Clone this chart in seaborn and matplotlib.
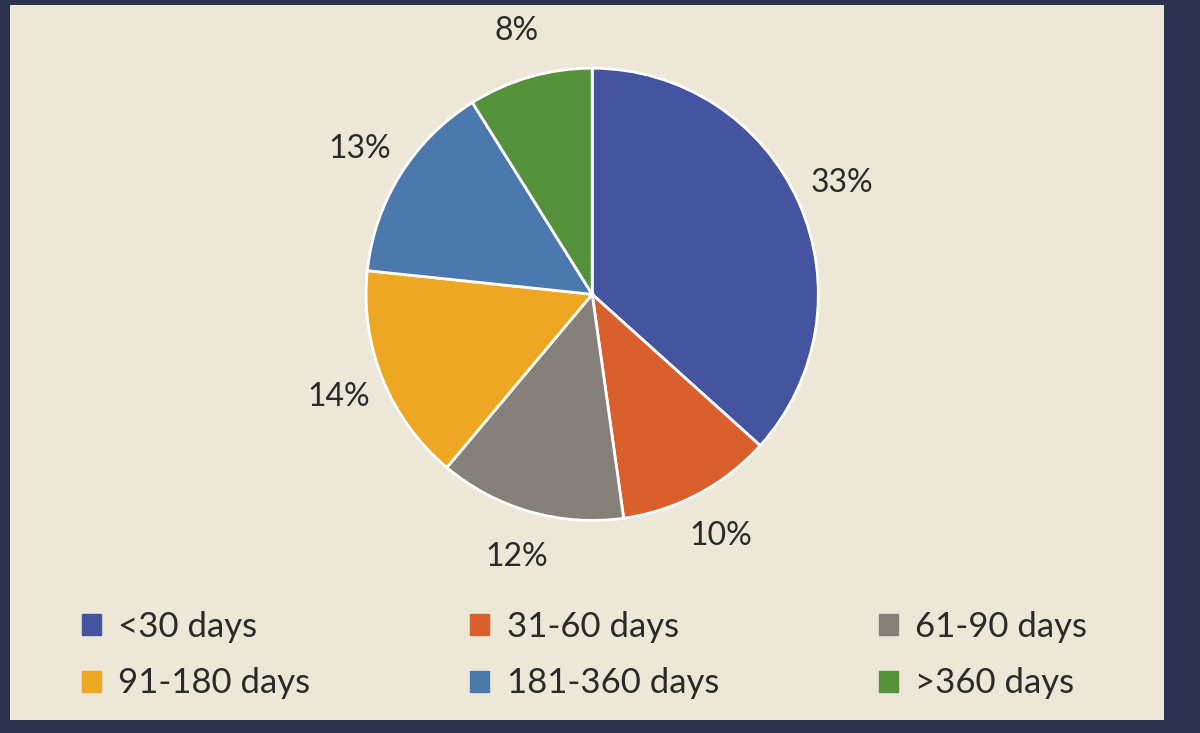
import matplotlib
matplotlib.use("Agg")
import matplotlib.pyplot as plt
import matplotlib.patches as mpatches
import seaborn as sns

categories = ["<30 days", "31-60 days", "61-90 days", "91-180 days", "181-360 days", ">360 days"]
values = [33, 10, 12, 14, 13, 8]
labels = ["33%", "10%", "12%", "14%", "13%", "8%"]
colors = ["#44549e", "#d9602c", "#858079", "#eea723", "#4b78ad", "#56923c"]

sns.set_theme(style="white")
plt.rcParams['font.family'] = ['Lato', 'DejaVu Sans']

fig = plt.figure(figsize=(12, 7.33), dpi=100)
fig.patch.set_facecolor("#2c3350")
paper = mpatches.Rectangle((0.008, 0.018), 0.962, 0.975, transform=fig.transFigure,
                           facecolor="#ece7d6", edgecolor="none", zorder=-10)
fig.patches.append(paper)

ax = fig.add_axes([0.305, 0.29, 0.377, 0.617])
ax.set_facecolor("none")
ax.set_zorder(2)
wedges, texts = ax.pie(values, labels=labels, colors=colors, startangle=90,
                       counterclock=False, labeldistance=1.21,
                       wedgeprops=dict(edgecolor="white", linewidth=2),
                       textprops=dict(fontsize=23, color="#2a2a2a"))
for t in texts:
    t.set_horizontalalignment("center")
    t.set_verticalalignment("center")
    t.set_clip_on(False)
ax.set_xlim(-1, 1)
ax.set_ylim(-1, 1)
ax.set_aspect("equal")

order = [0, 3, 1, 4, 2, 5]
handles = [mpatches.Patch(color=colors[i]) for i in order]
leg_labels = [categories[i] for i in order]
leg = fig.legend(handles, leg_labels, ncol=3, loc="center", bbox_to_anchor=(0.487, 0.106),
                 frameon=False, fontsize=25, handlelength=0.55, handleheight=0.55,
                 handletextpad=0.5, columnspacing=4.6, labelspacing=0.7,
                 labelcolor="#2a2a2a")
leg.set_zorder(3)

fig.savefig("out.png", dpi=100, facecolor=fig.get_facecolor())
